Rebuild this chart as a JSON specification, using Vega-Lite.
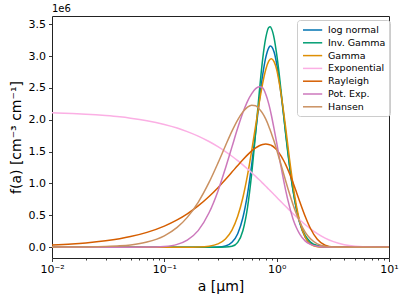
{
  "$schema": "https://vega.github.io/schema/vega-lite/v6.json",
  "autosize": {"type": "none"},
  "width": 337,
  "height": 242,
  "padding": {"left": 52, "right": 18, "top": 16, "bottom": 45},
  "background": "white",
  "title": {"text": "1e6", "anchor": "start", "fontSize": 10, "fontWeight": "normal", "font": "DejaVu Sans", "color": "black", "offset": 2, "frame": "group"},
  "config": {
    "view": {"stroke": "#222222", "strokeWidth": 1},
    "font": "DejaVu Sans",
    "axis": {"domain": false, "grid": false, "tickColor": "#222222", "tickWidth": 0.9, "labelFont": "DejaVu Sans", "titleFont": "DejaVu Sans", "labelColor": "black", "titleColor": "black", "titleFontWeight": "normal"}
  },
  "data": {"values": [
    {"a": 0.01, "log normal": 0, "Inv Gamma": 0, "Gamma": 0, "Exponential": 2.109e6, "Rayleigh": 0.0334e6, "Pot Exp": 0, "Hansen": 0.0007e6},
    {"a": 0.015, "log normal": 0, "Inv Gamma": 0, "Gamma": 0, "Exponential": 2.098e6, "Rayleigh": 0.0501e6, "Pot Exp": 0, "Hansen": 0.0018e6},
    {"a": 0.02, "log normal": 0, "Inv Gamma": 0, "Gamma": 0, "Exponential": 2.088e6, "Rayleigh": 0.0668e6, "Pot Exp": 0, "Hansen": 0.0038e6},
    {"a": 0.03, "log normal": 0, "Inv Gamma": 0, "Gamma": 0, "Exponential": 2.067e6, "Rayleigh": 0.100e6, "Pot Exp": 0, "Hansen": 0.0105e6},
    {"a": 0.04, "log normal": 0, "Inv Gamma": 0, "Gamma": 0, "Exponential": 2.047e6, "Rayleigh": 0.1334e6, "Pot Exp": 0, "Hansen": 0.021e6},
    {"a": 0.05, "log normal": 0, "Inv Gamma": 0, "Gamma": 0, "Exponential": 2.026e6, "Rayleigh": 0.1666e6, "Pot Exp": 0, "Hansen": 0.036e6},
    {"a": 0.07, "log normal": 0, "Inv Gamma": 0, "Gamma": 0, "Exponential": 1.986e6, "Rayleigh": 0.2328e6, "Pot Exp": 0.001e6, "Hansen": 0.080e6},
    {"a": 0.1, "log normal": 0, "Inv Gamma": 0, "Gamma": 0, "Exponential": 1.927e6, "Rayleigh": 0.3313e6, "Pot Exp": 0.012e6, "Hansen": 0.178e6},
    {"a": 0.13, "log normal": 0, "Inv Gamma": 0, "Gamma": 0, "Exponential": 1.871e6, "Rayleigh": 0.4284e6, "Pot Exp": 0.044e6, "Hansen": 0.310e6},
    {"a": 0.16, "log normal": 0, "Inv Gamma": 0, "Gamma": 0, "Exponential": 1.815e6, "Rayleigh": 0.5236e6, "Pot Exp": 0.111e6, "Hansen": 0.468e6},
    {"a": 0.2, "log normal": 0, "Inv Gamma": 0, "Gamma": 0.003e6, "Exponential": 1.744e6, "Rayleigh": 0.6472e6, "Pot Exp": 0.26e6, "Hansen": 0.705e6},
    {"a": 0.25, "log normal": 0, "Inv Gamma": 0, "Gamma": 0.015e6, "Exponential": 1.659e6, "Rayleigh": 0.795e6, "Pot Exp": 0.54e6, "Hansen": 1.017e6},
    {"a": 0.3, "log normal": 0.003e6, "Inv Gamma": 0, "Gamma": 0.051e6, "Exponential": 1.578e6, "Rayleigh": 0.9336e6, "Pot Exp": 0.88e6, "Hansen": 1.32e6},
    {"a": 0.35, "log normal": 0.019e6, "Inv Gamma": 0.001e6, "Gamma": 0.129e6, "Exponential": 1.501e6, "Rayleigh": 1.0618e6, "Pot Exp": 1.24e6, "Hansen": 1.593e6},
    {"a": 0.4, "log normal": 0.076e6, "Inv Gamma": 0.013e6, "Gamma": 0.269e6, "Exponential": 1.428e6, "Rayleigh": 1.1786e6, "Pot Exp": 1.575e6, "Hansen": 1.822e6},
    {"a": 0.45, "log normal": 0.212e6, "Inv Gamma": 0.076e6, "Gamma": 0.485e6, "Exponential": 1.358e6, "Rayleigh": 1.2828e6, "Pot Exp": 1.87e6, "Hansen": 2.00e6},
    {"a": 0.5, "log normal": 0.462e6, "Inv Gamma": 0.258e6, "Gamma": 0.776e6, "Exponential": 1.292e6, "Rayleigh": 1.3732e6, "Pot Exp": 2.11e6, "Hansen": 2.125e6},
    {"a": 0.55, "log normal": 0.834e6, "Inv Gamma": 0.622e6, "Gamma": 1.13e6, "Exponential": 1.229e6, "Rayleigh": 1.4497e6, "Pot Exp": 2.29e6, "Hansen": 2.20e6},
    {"a": 0.6, "log normal": 1.30e6, "Inv Gamma": 1.163e6, "Gamma": 1.52e6, "Exponential": 1.169e6, "Rayleigh": 1.512e6, "Pot Exp": 2.41e6, "Hansen": 2.23e6},
    {"a": 0.65, "log normal": 1.81e6, "Inv Gamma": 1.80e6, "Gamma": 1.91e6, "Exponential": 1.112e6, "Rayleigh": 1.5597e6, "Pot Exp": 2.49e6, "Hansen": 2.22e6},
    {"a": 0.7, "log normal": 2.29e6, "Inv Gamma": 2.43e6, "Gamma": 2.27e6, "Exponential": 1.058e6, "Rayleigh": 1.5932e6, "Pot Exp": 2.52e6, "Hansen": 2.17e6},
    {"a": 0.75, "log normal": 2.70e6, "Inv Gamma": 2.95e6, "Gamma": 2.57e6, "Exponential": 1.006e6, "Rayleigh": 1.613e6, "Pot Exp": 2.50e6, "Hansen": 2.10e6},
    {"a": 0.8, "log normal": 2.98e6, "Inv Gamma": 3.29e6, "Gamma": 2.79e6, "Exponential": 0.957e6, "Rayleigh": 1.62e6, "Pot Exp": 2.40e6, "Hansen": 2.01e6},
    {"a": 0.85, "log normal": 3.13e6, "Inv Gamma": 3.45e6, "Gamma": 2.92e6, "Exponential": 0.910e6, "Rayleigh": 1.6137e6, "Pot Exp": 2.25e6, "Hansen": 1.90e6},
    {"a": 0.875, "log normal": 3.16e6, "Inv Gamma": 3.46e6, "Gamma": 2.95e6, "Exponential": 0.888e6, "Rayleigh": 1.606e6, "Pot Exp": 2.16e6, "Hansen": 1.84e6},
    {"a": 0.9, "log normal": 3.15e6, "Inv Gamma": 3.43e6, "Gamma": 2.96e6, "Exponential": 0.866e6, "Rayleigh": 1.5962e6, "Pot Exp": 2.06e6, "Hansen": 1.78e6},
    {"a": 0.95, "log normal": 3.06e6, "Inv Gamma": 3.28e6, "Gamma": 2.91e6, "Exponential": 0.824e6, "Rayleigh": 1.5675e6, "Pot Exp": 1.85e6, "Hansen": 1.66e6},
    {"a": 1.0, "log normal": 2.88e6, "Inv Gamma": 3.03e6, "Gamma": 2.79e6, "Exponential": 0.784e6, "Rayleigh": 1.5284e6, "Pot Exp": 1.64e6, "Hansen": 1.53e6},
    {"a": 1.05, "log normal": 2.64e6, "Inv Gamma": 2.74e6, "Gamma": 2.60e6, "Exponential": 0.745e6, "Rayleigh": 1.4814e6, "Pot Exp": 1.43e6, "Hansen": 1.40e6},
    {"a": 1.1, "log normal": 2.37e6, "Inv Gamma": 2.41e6, "Gamma": 2.38e6, "Exponential": 0.709e6, "Rayleigh": 1.4265e6, "Pot Exp": 1.24e6, "Hansen": 1.28e6},
    {"a": 1.15, "log normal": 2.09e6, "Inv Gamma": 2.10e6, "Gamma": 2.14e6, "Exponential": 0.675e6, "Rayleigh": 1.365e6, "Pot Exp": 1.06e6, "Hansen": 1.16e6},
    {"a": 1.2, "log normal": 1.81e6, "Inv Gamma": 1.79e6, "Gamma": 1.89e6, "Exponential": 0.642e6, "Rayleigh": 1.3009e6, "Pot Exp": 0.90e6, "Hansen": 1.047e6},
    {"a": 1.3, "log normal": 1.30e6, "Inv Gamma": 1.28e6, "Gamma": 1.39e6, "Exponential": 0.581e6, "Rayleigh": 1.159e6, "Pot Exp": 0.64e6, "Hansen": 0.842e6},
    {"a": 1.4, "log normal": 0.894e6, "Inv Gamma": 0.883e6, "Gamma": 0.976e6, "Exponential": 0.525e6, "Rayleigh": 1.011e6, "Pot Exp": 0.44e6, "Hansen": 0.667e6},
    {"a": 1.5, "log normal": 0.595e6, "Inv Gamma": 0.60e6, "Gamma": 0.65e6, "Exponential": 0.475e6, "Rayleigh": 0.8634e6, "Pot Exp": 0.305e6, "Hansen": 0.521e6},
    {"a": 1.6, "log normal": 0.387e6, "Inv Gamma": 0.40e6, "Gamma": 0.415e6, "Exponential": 0.430e6, "Rayleigh": 0.7229e6, "Pot Exp": 0.21e6, "Hansen": 0.402e6},
    {"a": 1.8, "log normal": 0.155e6, "Inv Gamma": 0.18e6, "Gamma": 0.152e6, "Exponential": 0.352e6, "Rayleigh": 0.4784e6, "Pot Exp": 0.095e6, "Hansen": 0.233e6},
    {"a": 2.0, "log normal": 0.059e6, "Inv Gamma": 0.081e6, "Gamma": 0.049e6, "Exponential": 0.288e6, "Rayleigh": 0.2934e6, "Pot Exp": 0.043e6, "Hansen": 0.131e6},
    {"a": 2.3, "log normal": 0.014e6, "Inv Gamma": 0.025e6, "Gamma": 0.008e6, "Exponential": 0.214e6, "Rayleigh": 0.1232e6, "Pot Exp": 0.013e6, "Hansen": 0.052e6},
    {"a": 2.7, "log normal": 0.002e6, "Inv Gamma": 0.006e6, "Gamma": 0.001e6, "Exponential": 0.143e6, "Rayleigh": 0.0303e6, "Pot Exp": 0.002e6, "Hansen": 0.0144e6},
    {"a": 3.2, "log normal": 0, "Inv Gamma": 0.001e6, "Gamma": 0, "Exponential": 0.0868e6, "Rayleigh": 0.0036e6, "Pot Exp": 0, "Hansen": 0.0027e6},
    {"a": 4, "log normal": 0, "Inv Gamma": 0, "Gamma": 0, "Exponential": 0.039e6, "Rayleigh": 0, "Pot Exp": 0, "Hansen": 0},
    {"a": 5, "log normal": 0, "Inv Gamma": 0, "Gamma": 0, "Exponential": 0.0144e6, "Rayleigh": 0, "Pot Exp": 0, "Hansen": 0},
    {"a": 7, "log normal": 0, "Inv Gamma": 0, "Gamma": 0, "Exponential": 0.0019e6, "Rayleigh": 0, "Pot Exp": 0, "Hansen": 0},
    {"a": 10, "log normal": 0, "Inv Gamma": 0, "Gamma": 0, "Exponential": 0.0001e6, "Rayleigh": 0, "Pot Exp": 0, "Hansen": 0}
  ]},
  "transform": [{"fold": ["log normal", "Inv Gamma", "Gamma", "Exponential", "Rayleigh", "Pot Exp", "Hansen"], "as": ["dist", "f"]}],
  "mark": {"type": "line", "interpolate": "monotone", "strokeWidth": 1.5, "clip": true},
  "encoding": {
    "x": {"field": "a", "type": "quantitative",
      "scale": {"type": "log", "domain": [0.01, 10], "nice": false},
      "axis": {"title": "a [μm]", "titleFontSize": 14, "titlePadding": 5, "labelFontSize": 11, "labelPadding": 2, "labelFlush": false, "labelOverlap": false,
        "values": [0.01, 0.02, 0.03, 0.04, 0.05, 0.06, 0.07, 0.08, 0.09, 0.1, 0.2, 0.3, 0.4, 0.5, 0.6, 0.7, 0.8, 0.9, 1, 2, 3, 4, 5, 6, 7, 8, 9, 10],
        "labelExpr": "datum.value == 0.01 ? '10⁻²' : datum.value == 0.1 ? '10⁻¹' : datum.value == 1 ? '10⁰' : datum.value == 10 ? '10¹' : ''",
        "tickSize": {"condition": {"test": "datum.value == 0.01 || datum.value == 0.1 || datum.value == 1 || datum.value == 10", "value": 3.5}, "value": 2}}},
    "y": {"field": "f", "type": "quantitative",
      "scale": {"domain": [-170000, 3630000], "nice": false, "zero": false},
      "axis": {"title": "f(a) [cm⁻³ cm⁻¹]", "titleFontSize": 14, "titlePadding": 5, "labelFontSize": 11, "labelPadding": 3, "tickSize": 3.5,
        "values": [0, 500000, 1000000, 1500000, 2000000, 2500000, 3000000, 3500000],
        "labelExpr": "format(datum.value / 1000000, '.1f')"}},
    "color": {"field": "dist", "type": "nominal",
      "scale": {"domain": ["log normal", "Inv Gamma", "Gamma", "Exponential", "Rayleigh", "Pot Exp", "Hansen"],
        "range": ["#0173b2", "#029e73", "#de8f05", "#fbafe4", "#d55e00", "#cc78bc", "#ca9161"]},
      "legend": {"title": null, "orient": "none", "legendX": 245, "legendY": 4, "padding": 4, "rowPadding": 1.8,
        "labelFontSize": 9.5, "labelFont": "DejaVu Sans", "labelColor": "black", "labelOffset": 15,
        "labelExpr": "datum.label == 'Inv Gamma' ? 'Inv. Gamma' : datum.label == 'Pot Exp' ? 'Pot. Exp.' : datum.label",
        "symbolType": "M-0.8,0H3.04", "symbolSize": 100, "symbolStrokeWidth": 1.5,
        "strokeColor": "#cccccc", "fillColor": "rgba(255,255,255,0.8)", "cornerRadius": 3}}
  }
}
